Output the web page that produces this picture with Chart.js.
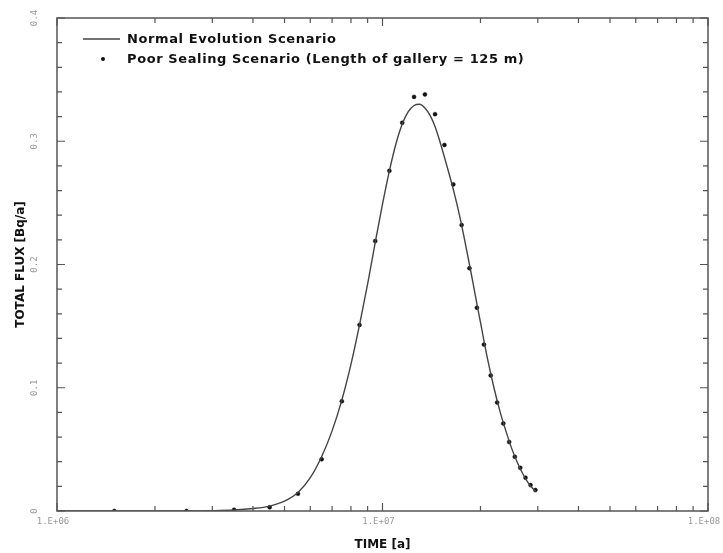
<!DOCTYPE html>
<html>
<head>
<meta charset="utf-8">
<script src="https://cdn.jsdelivr.net/npm/chart.js@4/dist/chart.umd.min.js"></script>
<style>
  html, body { margin: 0; padding: 0; background: #fff; }
  #wrap { width: 723px; height: 553px; }
</style>
</head>
<body>
<div id="wrap"><canvas id="fluxChart" width="723" height="553"></canvas></div>
<script>
// Normal evolution scenario (solid curve), time in years
var normalTime = [1.0e6, 2.0e6, 3.0e6, 3.5e6, 4.0e6, 4.5e6, 5.0e6, 5.5e6, 6.0e6, 6.5e6, 7.0e6, 7.5e6, 8.0e6, 8.5e6,
    9.0e6, 9.5e6, 1.0e7, 1.05e7, 1.1e7, 1.15e7, 1.2e7, 1.25e7, 1.3e7, 1.35e7, 1.4e7, 1.45e7, 1.5e7, 1.55e7,
    1.6e7, 1.65e7, 1.7e7, 1.75e7, 1.8e7, 1.85e7, 1.9e7, 1.95e7, 2.0e7, 2.1e7, 2.2e7, 2.3e7, 2.4e7, 2.5e7,
    2.6e7, 2.7e7, 2.8e7, 2.9e7, 2.96e7];
var normalFlux = [0, 0, 0.0003, 0.0008, 0.002, 0.004, 0.008, 0.015, 0.027, 0.044, 0.065, 0.090, 0.119, 0.151,
    0.184, 0.218, 0.249, 0.276, 0.298, 0.314, 0.324, 0.329, 0.330, 0.327, 0.321, 0.312, 0.300, 0.287,
    0.274, 0.261, 0.247, 0.232, 0.216, 0.200, 0.184, 0.168, 0.153, 0.124, 0.100, 0.080, 0.064, 0.050,
    0.039, 0.030, 0.023, 0.018, 0.016];

// Poor sealing scenario (dots)
var poorTime = [1.5e6, 2.5e6, 3.5e6, 4.5e6, 5.5e6, 6.5e6, 7.5e6, 8.5e6, 9.5e6, 1.05e7, 1.15e7, 1.25e7, 1.35e7,
    1.45e7, 1.55e7, 1.65e7, 1.75e7, 1.85e7, 1.95e7, 2.05e7, 2.15e7, 2.25e7, 2.35e7, 2.45e7, 2.55e7,
    2.65e7, 2.75e7, 2.85e7, 2.95e7];
var poorFlux = [0, 0, 0.001, 0.003, 0.014, 0.042, 0.089, 0.151, 0.219, 0.276, 0.315, 0.336, 0.338,
    0.322, 0.297, 0.265, 0.232, 0.197, 0.165, 0.135, 0.110, 0.088, 0.071, 0.056, 0.044,
    0.035, 0.027, 0.021, 0.017];

var xTickValues = [1e6, 1e7, 1e8];
var xTickLabels = ["1.E+06", "1.E+07", "1.E+08"];
var yTickValues = [0, 0.1, 0.2, 0.3, 0.4];
var yTickLabels = ["0", "0.1", "0.2", "0.3", "0.4"];

var seriesNames = ["Normal Evolution Scenario", "Poor Sealing Scenario (Length of gallery = 125 m)"];

var ctx = document.getElementById("fluxChart").getContext("2d");

function toPoints(xs, ys) {
    return xs.map(function (x, i) { return { x: x, y: ys[i] }; });
}

// frame with inward ticks on all four sides, and the legend inside the plot
var framePlugin = {
    id: "frame",
    afterDatasetsDraw: function (chart) {
        var c = chart.ctx;
        var a = chart.chartArea;
        var xs = chart.scales.x;
        var ys = chart.scales.y;
        c.save();
        c.strokeStyle = "#555";
        c.lineWidth = 1.5;
        c.strokeRect(a.left, a.top, a.right - a.left, a.bottom - a.top);

        c.lineWidth = 1.2;
        c.beginPath();
        // x ticks: decades long, 2..9 short
        for (var d = 6; d <= 8; d++) {
            for (var m = 1; m <= 9; m++) {
                var v = m * Math.pow(10, d);
                if (v > 1e8) break;
                var px = xs.getPixelForValue(v);
                var len = m === 1 ? 8 : 5;
                c.moveTo(px, a.bottom); c.lineTo(px, a.bottom - len);
                c.moveTo(px, a.top); c.lineTo(px, a.top + len);
            }
        }
        // y ticks every 0.02, long every 0.1
        for (var k = 0; k <= 20; k++) {
            var py = ys.getPixelForValue(k * 0.02);
            var l = k % 5 === 0 ? 8 : 5;
            c.moveTo(a.left, py); c.lineTo(a.left + l, py);
            c.moveTo(a.right, py); c.lineTo(a.right - l, py);
        }
        c.stroke();

        // legend
        c.fillStyle = "#111";
        c.font = "bold 13px 'DejaVu Sans'";
        c.letterSpacing = "0.6px";
        c.textBaseline = "middle";
        c.strokeStyle = "#444";
        c.lineWidth = 1.3;
        c.beginPath();
        c.moveTo(a.left + 26, a.top + 21);
        c.lineTo(a.left + 63, a.top + 21);
        c.stroke();
        c.fillText(chart.data.datasets[0].label, a.left + 70, a.top + 22);
        c.beginPath();
        c.arc(a.left + 46, a.top + 41, 2, 0, Math.PI * 2);
        c.fill();
        c.fillText(chart.data.datasets[1].label, a.left + 70, a.top + 42);
        c.restore();
    }
};

var chart = new Chart(ctx, {
    type: "scatter",
    data: {
        datasets: [
            {
                label: seriesNames[0],
                data: toPoints(normalTime, normalFlux),
                showLine: true,
                borderColor: "#444",
                borderWidth: 1.4,
                pointRadius: 0,
                cubicInterpolationMode: "monotone",
                fill: false
            },
            {
                label: seriesNames[1],
                data: toPoints(poorTime, poorFlux),
                showLine: false,
                pointRadius: 2,
                pointBackgroundColor: "#111",
                pointBorderColor: "#111",
                pointBorderWidth: 0.5
            }
        ]
    },
    options: {
        responsive: false,
        animation: false,
        layout: { padding: { top: 18, right: 15, left: 0, bottom: 0 } },
        plugins: {
            legend: { display: false },
            tooltip: { enabled: false }
        },
        scales: {
            x: {
                type: "logarithmic",
                min: 1e6,
                max: 1e8,
                afterBuildTicks: function (scale) {
                    scale.ticks = xTickValues.map(function (v) { return { value: v }; });
                },
                afterFit: function (scale) {
                    scale.height = 42;
                    scale.paddingLeft = 0;
                    scale.paddingRight = 0;
                },
                grid: { display: false, drawTicks: false },
                border: { display: false },
                ticks: {
                    autoSkip: false,
                    maxRotation: 0,
                    minRotation: 0,
                    padding: 5,
                    labelOffset: -4,
                    color: "#999",
                    font: { family: "'DejaVu Sans Mono'", size: 9 },
                    callback: function (value, index) { return xTickLabels[index]; }
                },
                title: {
                    display: true,
                    text: "TIME [a]",
                    color: "#111",
                    font: { family: "'DejaVu Sans'", size: 12, weight: "bold" },
                    padding: { top: 0, bottom: 1 }
                }
            },
            y: {
                min: 0,
                max: 0.4,
                afterBuildTicks: function (scale) {
                    scale.ticks = yTickValues.map(function (v) { return { value: v }; });
                },
                afterFit: function (scale) {
                    scale.width = 57;
                    scale.paddingTop = 0;
                    scale.paddingBottom = 0;
                },
                grid: { display: false, drawTicks: false },
                border: { display: false },
                ticks: {
                    autoSkip: false,
                    minRotation: 90,
                    maxRotation: 90,
                    crossAlign: "center",
                    padding: 14,
                    color: "#999",
                    font: { family: "'DejaVu Sans Mono'", size: 9 },
                    callback: function (value, index) { return yTickLabels[index]; }
                },
                title: {
                    display: true,
                    text: "TOTAL FLUX [Bq/a]",
                    color: "#111",
                    font: { family: "'DejaVu Sans'", size: 12, weight: "bold" },
                    padding: { top: 14, bottom: 0 }
                }
            }
        }
    },
    plugins: [framePlugin]
});
</script>
</body>
</html>
